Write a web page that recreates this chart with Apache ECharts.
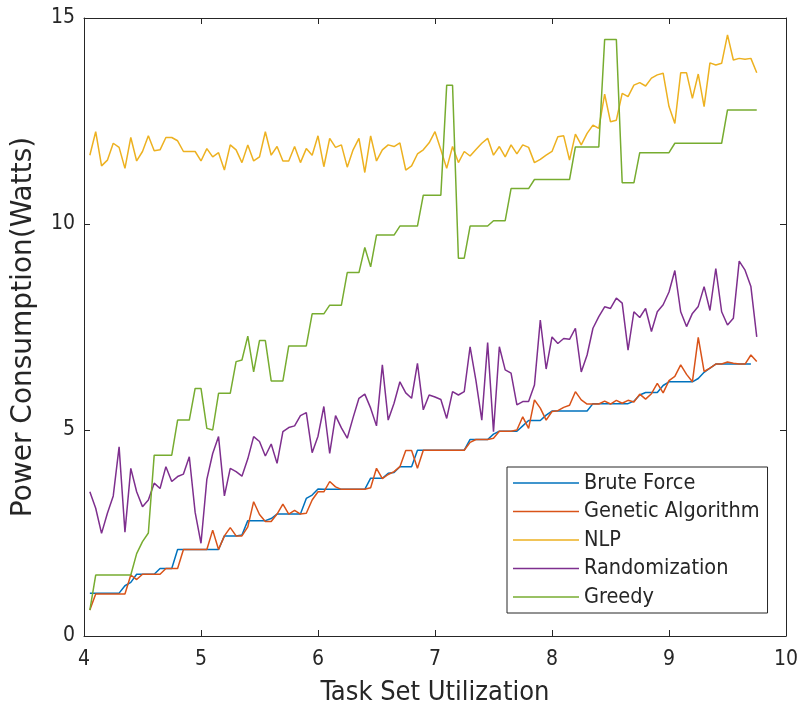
<!DOCTYPE html>
<html>
<head>
<meta charset="utf-8">
<title>Power Consumption vs Task Set Utilization</title>
<script src="https://cdn.jsdelivr.net/npm/echarts@6/dist/echarts.min.js"></script>
<style>
  html, body { margin: 0; padding: 0; background: #fff; }
  #chart { width: 804px; height: 709px; }
</style>
</head>
<body>
<div id="chart"></div>
<script>
// Sampling of the utilization axis: 4.05 .. 9.75 in steps of 0.05
const U_START = 4.05;
const U_STEP = 0.05;

const seriesNames = ['Brute Force', 'Genetic Algorithm', 'NLP', 'Randomization', 'Greedy'];
const seriesColors = ['#0072BD', '#D95319', '#EDB120', '#7E2F8E', '#77AC30'];

const xTicks = [4, 5, 6, 7, 8, 9, 10];
const yTicks = [0, 5, 10, 15];

// Power consumption (Watts) per algorithm
const bruteForce = [
  1.04, 1.04, 1.04, 1.04, 1.04, 1.04, 1.22, 1.30, 1.50, 1.50,
  1.50, 1.50, 1.64, 1.64, 1.64, 2.10, 2.10, 2.10, 2.10, 2.10,
  2.10, 2.10, 2.10, 2.43, 2.43, 2.43, 2.45, 2.80, 2.80, 2.80,
  2.80, 2.85, 2.96, 2.96, 2.96, 2.96, 2.96, 3.34, 3.42, 3.57,
  3.56, 3.56, 3.56, 3.56, 3.56, 3.56, 3.56, 3.56, 3.83, 3.83,
  3.83, 3.95, 3.97, 4.11, 4.11, 4.11, 4.51, 4.51, 4.51, 4.51,
  4.51, 4.51, 4.51, 4.51, 4.51, 4.77, 4.77, 4.77, 4.77, 4.90,
  4.97, 4.97, 4.97, 4.97, 5.10, 5.23, 5.23, 5.23, 5.36, 5.46,
  5.46, 5.46, 5.46, 5.46, 5.46, 5.46, 5.64, 5.64, 5.64, 5.64,
  5.64, 5.64, 5.64, 5.70, 5.85, 5.91, 5.91, 5.91, 6.08, 6.17,
  6.17, 6.17, 6.17, 6.17, 6.25, 6.40, 6.50, 6.60, 6.60, 6.60,
  6.60, 6.60, 6.60, 6.60
];

const geneticAlgorithm = [
  0.63, 1.02, 1.02, 1.02, 1.02, 1.02, 1.02, 1.48, 1.37, 1.50,
  1.50, 1.50, 1.50, 1.64, 1.64, 1.64, 2.10, 2.10, 2.10, 2.10,
  2.10, 2.57, 2.10, 2.43, 2.63, 2.43, 2.43, 2.65, 3.26, 2.95,
  2.78, 2.78, 2.96, 3.20, 2.96, 3.05, 2.96, 2.98, 3.30, 3.50,
  3.50, 3.75, 3.62, 3.56, 3.56, 3.56, 3.56, 3.56, 3.60, 4.07,
  3.82, 3.92, 3.99, 4.11, 4.50, 4.50, 4.07, 4.51, 4.51, 4.51,
  4.51, 4.51, 4.51, 4.51, 4.51, 4.70, 4.77, 4.77, 4.77, 4.80,
  4.97, 4.97, 4.97, 5.00, 5.32, 5.04, 5.73, 5.53, 5.24, 5.45,
  5.47, 5.55, 5.60, 5.93, 5.73, 5.63, 5.63, 5.63, 5.70, 5.63,
  5.72, 5.65, 5.72, 5.68, 5.87, 5.75, 5.88, 6.13, 5.90, 6.20,
  6.30, 6.58, 6.35, 6.17, 7.25, 6.42, 6.50, 6.60, 6.60, 6.65,
  6.62, 6.60, 6.60, 6.82, 6.66
];

const nlp = [
  11.67, 12.24, 11.41, 11.55, 11.96, 11.86, 11.35, 12.10, 11.53, 11.76,
  12.14, 11.78, 11.80, 12.10, 12.10, 12.02, 11.76, 11.76, 11.76, 11.53,
  11.83, 11.63, 11.73, 11.31, 11.92, 11.80, 11.49, 11.92, 11.53, 11.63,
  12.24, 11.67, 11.88, 11.53, 11.53, 11.88, 11.49, 11.83, 11.67, 12.14,
  11.39, 12.08, 11.86, 11.92, 11.38, 11.80, 12.08, 11.25, 12.14, 11.53,
  11.80, 11.92, 11.88, 11.97, 11.31, 11.41, 11.70, 11.80, 11.97, 12.24,
  11.80, 11.35, 11.88, 11.49, 11.76, 11.65, 11.81, 11.96, 12.08, 11.67,
  11.88, 11.63, 11.92, 11.70, 11.92, 11.86, 11.49, 11.57, 11.67, 11.76,
  12.12, 12.14, 11.55, 12.18, 11.92, 12.20, 12.40, 12.32, 13.15, 12.48,
  12.52, 13.17, 13.09, 13.37, 13.43, 13.35, 13.54, 13.62, 13.66, 12.85,
  12.44, 13.67, 13.67, 13.05, 13.64, 12.85, 13.91, 13.86, 13.90, 14.59,
  13.98, 14.02, 14.00, 14.02, 13.67
];

const randomization = [
  3.50, 3.10, 2.49, 2.98, 3.40, 4.59, 2.52, 4.07, 3.50, 3.14,
  3.30, 3.71, 3.58, 4.11, 3.75, 3.87, 3.93, 4.35, 3.00, 2.25,
  3.80, 4.43, 4.84, 3.40, 4.07, 3.99, 3.88, 4.30, 4.84, 4.72,
  4.37, 4.66, 4.19, 4.96, 5.06, 5.10, 5.35, 5.42, 4.45, 4.85,
  5.57, 4.43, 5.35, 5.05, 4.80, 5.30, 5.77, 5.87, 5.53, 5.10,
  6.58, 5.24, 5.65, 6.17, 5.90, 5.77, 6.62, 5.49, 5.85, 5.80,
  5.74, 5.28, 5.93, 5.85, 5.93, 7.02, 6.20, 5.24, 7.12, 4.96,
  7.02, 6.46, 6.38, 5.61, 5.69, 5.69, 6.09, 7.67, 6.48, 7.26,
  7.10, 7.22, 7.20, 7.47, 6.41, 6.82, 7.47, 7.75, 7.99, 7.95,
  8.20, 8.08, 6.94, 7.87, 7.73, 7.95, 7.39, 7.87, 8.04, 8.35,
  8.87, 7.87, 7.51, 7.83, 8.00, 8.48, 7.90, 8.92, 7.87, 7.55,
  7.71, 9.10, 8.88, 8.48, 7.26
];

const greedy = [
  0.63, 1.48, 1.48, 1.48, 1.48, 1.48, 1.48, 1.48, 2.00, 2.29,
  2.50, 4.39, 4.39, 4.39, 4.39, 5.24, 5.24, 5.24, 6.01, 6.01,
  5.04, 5.00, 5.89, 5.89, 5.89, 6.66, 6.70, 7.28, 6.41, 7.17,
  7.17, 6.19, 6.19, 6.19, 7.04, 7.04, 7.04, 7.04, 7.82, 7.82,
  7.82, 8.03, 8.03, 8.03, 8.82, 8.82, 8.82, 9.43, 8.96, 9.73,
  9.73, 9.73, 9.73, 9.95, 9.95, 9.95, 9.95, 10.70, 10.70, 10.70,
  10.70, 13.37, 13.37, 9.17, 9.17, 9.95, 9.95, 9.95, 9.95, 10.08,
  10.08, 10.08, 10.86, 10.86, 10.86, 10.86, 11.08, 11.08, 11.08, 11.08,
  11.08, 11.08, 11.08, 11.87, 11.87, 11.87, 11.87, 11.87, 14.48, 14.48,
  14.48, 11.00, 11.00, 11.00, 11.73, 11.73, 11.73, 11.73, 11.73, 11.73,
  11.96, 11.96, 11.96, 11.96, 11.96, 11.96, 11.96, 11.96, 11.96, 12.77,
  12.77, 12.77, 12.77, 12.77, 12.77
];

const seriesValues = [bruteForce, geneticAlgorithm, nlp, randomization, greedy];

const FONT_NARROW = "'DejaVu Sans Condensed', 'DejaVu Sans', sans-serif";
const FONT_WIDE = "'DejaVu Sans', sans-serif";
const INK = '#262626';

function toPoints(values) {
  return values.map((v, i) => [+(U_START + U_STEP * i).toFixed(2), v]);
}

function frameAxis(extra) {
  return Object.assign({
    type: 'value',
    axisLine: { show: true, onZero: false, lineStyle: { color: INK, width: 1 } },
    axisTick: { show: true, inside: true, length: 6, lineStyle: { color: INK, width: 1 } },
    splitLine: { show: false },
    minorTick: { show: false }
  }, extra);
}

const chart = echarts.init(document.getElementById('chart'), null, { renderer: 'canvas' });

chart.setOption({
  animation: false,
  backgroundColor: '#ffffff',
  grid: { left: 84, right: 18, top: 18, bottom: 73, containLabel: false, outerBoundsMode: 'none' },
  xAxis: [
    frameAxis({
      position: 'bottom', min: xTicks[0], max: xTicks[xTicks.length - 1], interval: 1,
      axisLabel: { color: INK, fontSize: 21, fontFamily: FONT_NARROW, margin: 13 },
      name: 'Task Set Utilization', nameLocation: 'middle', nameGap: 43,
      nameTextStyle: { color: INK, fontSize: 27, fontFamily: FONT_NARROW }
    }),
    frameAxis({
      position: 'top', min: xTicks[0], max: xTicks[xTicks.length - 1], interval: 1,
      axisLabel: { show: false }
    })
  ],
  yAxis: [
    frameAxis({
      position: 'left', min: yTicks[0], max: yTicks[yTicks.length - 1], interval: 5,
      axisLabel: { color: INK, fontSize: 21, fontFamily: FONT_NARROW, margin: 9 },
      name: 'Power Consumption(Watts)', nameLocation: 'middle', nameGap: 46,
      nameTextStyle: { color: INK, fontSize: 28, fontFamily: FONT_WIDE }
    }),
    frameAxis({
      position: 'right', min: yTicks[0], max: yTicks[yTicks.length - 1], interval: 5,
      axisLabel: { show: false }
    })
  ],
  legend: {
    orient: 'vertical',
    left: 507,
    top: 467,
    padding: [5, 8, 5, 6],
    icon: 'rect',
    itemWidth: 66,
    itemHeight: 1.5,
    itemGap: 6.5,
    borderColor: INK,
    borderWidth: 1,
    backgroundColor: '#ffffff',
    textStyle: { color: INK, fontSize: 21.5, fontFamily: FONT_NARROW, lineHeight: 21.5 },
    data: seriesNames
  },
  series: seriesNames.map((name, k) => ({
    name: name,
    type: 'line',
    xAxisIndex: 0,
    yAxisIndex: 0,
    symbol: 'none',
    data: toPoints(seriesValues[k]),
    lineStyle: { color: seriesColors[k], width: 1.5 },
    itemStyle: { color: seriesColors[k] },
    emphasis: { disabled: true }
  }))
});
</script>
</body>
</html>
